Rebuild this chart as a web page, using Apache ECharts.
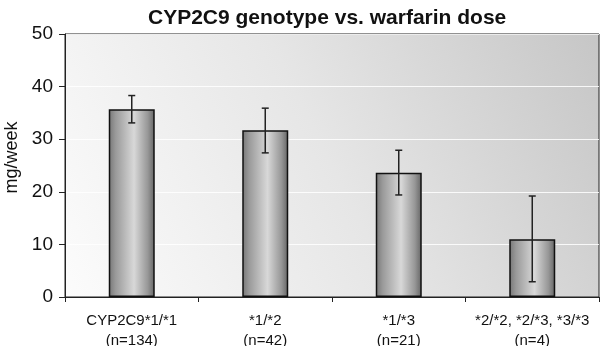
<!DOCTYPE html>
<html>
<head>
<meta charset="utf-8">
<script src="https://cdn.jsdelivr.net/npm/echarts@6/dist/echarts.min.js"></script>
<style>html,body{margin:0;padding:0;background:#fff}#c{width:600px;height:346px}</style>
</head>
<body>
<div id="c"></div>
<script>
var categories = ['CYP2C9*1/*1\n(n=134)', '*1/*2\n(n=42)', '*1/*3\n(n=21)', '*2/*2, *2/*3, *3/*3\n(n=4)'];
var meanDose = [35.7, 31.7, 23.6, 11.0];
var errLow = [33.1, 27.4, 19.4, 2.9];
var errHigh = [38.3, 35.9, 27.9, 19.2];
var yTicks = [0, 10, 20, 30, 40, 50];

var FONT = 'Liberation Sans, Arial, Helvetica, sans-serif';
var chart = echarts.init(document.getElementById('c'), null, {renderer: 'canvas'});

var errData = categories.map(function (c, i) { return [i, errLow[i], errHigh[i]]; });

chart.setOption({
  animation: false,
  title: {
    text: 'CYP2C9 genotype vs. warfarin dose',
    left: 143, top: 3,
    textStyle: {fontFamily: FONT, fontSize: 21, fontWeight: 'bold', color: '#111'}
  },
  grid: {
    left: 65, right: 1, top: 34, bottom: 49,
    outerBoundsMode: 'none',
    containLabel: false,
    show: true,
    borderColor: '#222', borderWidth: 1,
    backgroundColor: {
      type: 'linear', x: 0, y: 1, x2: 1, y2: 0,
      colorStops: [
        {offset: 0, color: '#fcfcfc'},
        {offset: 0.5, color: '#e6e6e6'},
        {offset: 1, color: '#c6c6c6'}
      ]
    }
  },
  xAxis: {
    type: 'category',
    data: categories,
    axisLine: {lineStyle: {color: '#222', width: 1}},
    axisTick: {show: true, length: 5, lineStyle: {color: '#222'}},
    axisLabel: {fontFamily: FONT, fontSize: 15, color: '#111', lineHeight: 20, margin: 14, interval: 0}
  },
  yAxis: {
    type: 'value',
    min: yTicks[0], max: yTicks[yTicks.length - 1], interval: 10,
    name: 'mg/week',
    nameLocation: 'middle',
    nameGap: 41,
    nameTextStyle: {fontFamily: FONT, fontSize: 18, color: '#111', padding: [0, 0, 0, 16]},
    axisLine: {show: true, lineStyle: {color: '#222', width: 1}},
    axisTick: {show: true, length: 6, lineStyle: {color: '#222'}},
    axisLabel: {fontFamily: FONT, fontSize: 19, color: '#111', margin: 12},
    splitLine: {show: true, lineStyle: {color: 'rgba(255,255,255,0.85)', width: 1}}
  },
  series: [
    {
      type: 'bar',
      data: meanDose,
      barWidth: 46,
      itemStyle: {
        borderColor: '#111', borderWidth: 1.5,
        color: {
          type: 'linear', x: 0, y: 0, x2: 1, y2: 0,
          colorStops: [
            {offset: 0, color: '#767676'},
            {offset: 0.15, color: '#9a9a9a'},
            {offset: 0.55, color: '#d8d8d8'},
            {offset: 0.85, color: '#979797'},
            {offset: 1, color: '#646464'}
          ]
        }
      }
    },
    {
      type: 'custom',
      data: errData,
      z: 10,
      renderItem: function (params, api) {
        var x = api.value(0);
        var lo = api.coord([x, api.value(1)]);
        var hi = api.coord([x, api.value(2)]);
        var cap = 3.5;
        var style = {stroke: '#222', lineWidth: 1.5};
        return {
          type: 'group',
          children: [
            {type: 'line', shape: {x1: hi[0], y1: hi[1], x2: lo[0], y2: lo[1]}, style: style},
            {type: 'line', shape: {x1: hi[0] - cap, y1: hi[1], x2: hi[0] + cap, y2: hi[1]}, style: style},
            {type: 'line', shape: {x1: lo[0] - cap, y1: lo[1], x2: lo[0] + cap, y2: lo[1]}, style: style}
          ]
        };
      }
    }
  ]
});
</script>
</body>
</html>
